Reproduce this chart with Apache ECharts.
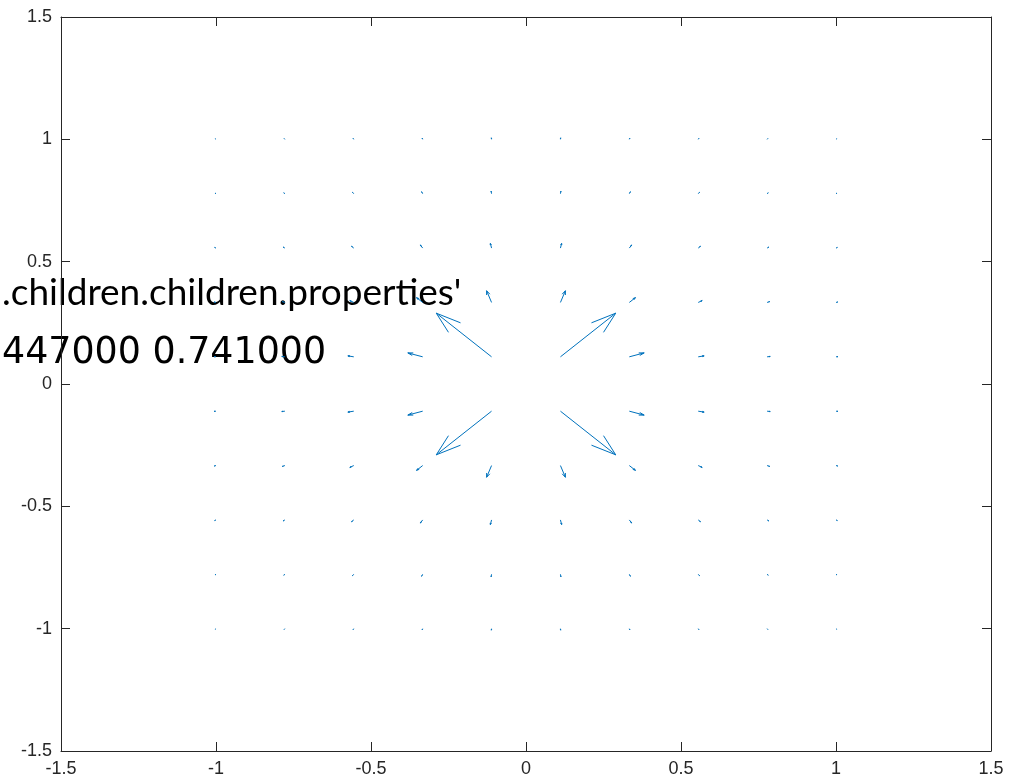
<!DOCTYPE html>
<html>
<head>
<meta charset="utf-8">
<script src="https://cdn.jsdelivr.net/npm/echarts@6/dist/echarts.min.js"></script>
<style>
html,body{margin:0;padding:0;background:#fff;}
#chart{width:1022px;height:783px;}
</style>
</head>
<body>
<div id="chart"></div>
<script>
// Grid coordinates (same for x and y)
const gridX = [-1, -0.7778, -0.5556, -0.3333, -0.1111, 0.1111, 0.3333, 0.5556, 0.7778, 1];
const gridY = [-1, -0.7778, -0.5556, -0.3333, -0.1111, 0.1111, 0.3333, 0.5556, 0.7778, 1];
// Arrow x-components (rows: gridY from -1 to 1; columns: gridX)
const U = [
  [-0.0022,-0.0024,-0.0023,-0.0018,-0.0007,0.0007,0.0018,0.0023,0.0024,0.0022],
  [-0.0031,-0.0036,-0.0040,-0.0034,-0.0014,0.0014,0.0034,0.0040,0.0036,0.0031],
  [-0.0042,-0.0055,-0.0071,-0.0076,-0.0038,0.0038,0.0076,0.0071,0.0055,0.0042],
  [-0.0053,-0.0080,-0.0127,-0.0198,-0.0160,0.0160,0.0198,0.0127,0.0080,0.0053],
  [-0.0061,-0.0100,-0.0190,-0.0479,-0.1784,0.1784,0.0479,0.0190,0.0100,0.0061],
  [-0.0061,-0.0100,-0.0190,-0.0479,-0.1784,0.1784,0.0479,0.0190,0.0100,0.0061],
  [-0.0053,-0.0080,-0.0127,-0.0198,-0.0160,0.0160,0.0198,0.0127,0.0080,0.0053],
  [-0.0042,-0.0055,-0.0071,-0.0076,-0.0038,0.0038,0.0076,0.0071,0.0055,0.0042],
  [-0.0031,-0.0036,-0.0040,-0.0034,-0.0014,0.0014,0.0034,0.0040,0.0036,0.0031],
  [-0.0022,-0.0024,-0.0023,-0.0018,-0.0007,0.0007,0.0018,0.0023,0.0024,0.0022]
];
// Arrow y-components (rows: gridY from -1 to 1; columns: gridX)
const V = [
  [-0.0022,-0.0031,-0.0042,-0.0053,-0.0061,-0.0061,-0.0053,-0.0042,-0.0031,-0.0022],
  [-0.0024,-0.0036,-0.0055,-0.0080,-0.0100,-0.0100,-0.0080,-0.0055,-0.0036,-0.0024],
  [-0.0023,-0.0040,-0.0071,-0.0127,-0.0190,-0.0190,-0.0127,-0.0071,-0.0040,-0.0023],
  [-0.0018,-0.0034,-0.0076,-0.0198,-0.0479,-0.0479,-0.0198,-0.0076,-0.0034,-0.0018],
  [-0.0007,-0.0014,-0.0038,-0.0160,-0.1784,-0.1784,-0.0160,-0.0038,-0.0014,-0.0007],
  [0.0007,0.0014,0.0038,0.0160,0.1784,0.1784,0.0160,0.0038,0.0014,0.0007],
  [0.0018,0.0034,0.0076,0.0198,0.0479,0.0479,0.0198,0.0076,0.0034,0.0018],
  [0.0023,0.0040,0.0071,0.0127,0.0190,0.0190,0.0127,0.0071,0.0040,0.0023],
  [0.0024,0.0036,0.0055,0.0080,0.0100,0.0100,0.0080,0.0055,0.0036,0.0024],
  [0.0022,0.0031,0.0042,0.0053,0.0061,0.0061,0.0053,0.0042,0.0031,0.0022]
];
const textLine1 = ".children.children.properties'";
const textLine2 = "447000 0.741000";

const data = [];
for (let j = 0; j < gridY.length; j++) {
  for (let i = 0; i < gridX.length; i++) {
    data.push([gridX[i], gridY[j], U[j][i], V[j][i]]);
  }
}

function render() {
  const chart = echarts.init(document.getElementById('chart'), null, {renderer: 'canvas'});
  const axisColor = '#262626';
  const labelFont = {color: axisColor, fontSize: 18, fontFamily: 'Liberation Sans, Arial, sans-serif'};
  function valAxis(pos, show, margin) {
    return {
      type: 'value', position: pos, min: -1.5, max: 1.5, interval: 0.5,
      axisLine: {show: true, onZero: false, lineStyle: {color: axisColor, width: 1}},
      axisTick: {show: true, inside: true, length: 9, lineStyle: {color: axisColor, width: 1}},
      axisLabel: Object.assign({show: show, margin: margin}, labelFont),
      splitLine: {show: false}
    };
  }
  const alpha = 0.33, beta = 0.33;
  chart.setOption({
    animation: false,
    backgroundColor: '#ffffff',
    grid: {left: 61, right: 31, top: 17, bottom: 32},
    xAxis: [valAxis('bottom', true, 9), valAxis('top', false, 8)],
    yAxis: [valAxis('left', true, 9), valAxis('right', false, 8)],
    series: [{
      type: 'custom',
      coordinateSystem: 'cartesian2d',
      xAxisIndex: 0, yAxisIndex: 0,
      clip: false,
      data: data,
      renderItem: function (params, api) {
        const x = api.value(0), y = api.value(1), u = api.value(2), v = api.value(3);
        const tx = x + u, ty = y + v;
        const p0 = api.coord([x, y]);
        const p1 = api.coord([tx, ty]);
        const b1 = api.coord([tx - alpha * (u + beta * v), ty - alpha * (v - beta * u)]);
        const b2 = api.coord([tx - alpha * (u - beta * v), ty - alpha * (v + beta * u)]);
        const style = {stroke: '#0072BD', lineWidth: 1, fill: null};
        return {
          type: 'group',
          children: [
            {type: 'polyline', shape: {points: [p0, p1]}, style: style},
            {type: 'polyline', shape: {points: [b1, p1, b2]}, style: style}
          ]
        };
      }
    }],
    graphic: [
      {type: 'text', x: 2, y: 312, style: {text: textLine1, font: '37px Lato, "Noto Sans", sans-serif', fill: '#000', align: 'left', verticalAlign: 'bottom'}},
      {type: 'text', x: 2, y: 372, style: {text: textLine2, font: '36.4px "DejaVu Sans", sans-serif', fill: '#000', align: 'left', verticalAlign: 'bottom'}}
    ]
  });
}

let done = false;
function go() { if (!done) { done = true; render(); } }
if (document.fonts && document.fonts.load) {
  Promise.all([
    document.fonts.load('37px Lato'),
    document.fonts.load('36px "DejaVu Sans"'),
    document.fonts.load('18px "Liberation Sans"')
  ]).then(go, go);
  setTimeout(go, 1500);
} else {
  go();
}
</script>
</body>
</html>
